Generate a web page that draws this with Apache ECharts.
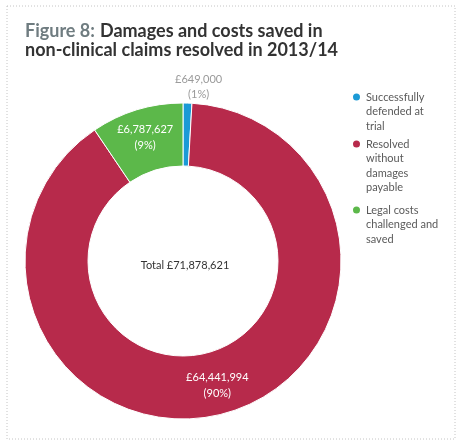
<!DOCTYPE html>
<html>
<head>
<meta charset="utf-8">
<script src="https://cdn.jsdelivr.net/npm/echarts@6/dist/echarts.min.js"></script>
<style>
	html, body { margin: 0; padding: 0; background: #fff; }
	#chart { width: 457px; height: 443px; }
</style>
</head>
<body>
<div id="chart"></div>
<script>
var categories = ['Successfully\ndefended at\ntrial', 'Resolved\nwithout\ndamages\npayable', 'Legal costs\nchallenged and\nsaved'];
var amounts = [649000, 64441994, 6787627];
var amountLabels = ['£649,000', '£64,441,994', '£6,787,627'];
var percentLabels = ['(1%)', '(90%)', '(9%)'];
var totalLabel = 'Total £71,878,621';
var colors = ['#1b9ad6', '#b72a4b', '#5cb84a'];

// legend icon centres sit on the first text line
var legendIconY = [97, 144, 210];
var legendLineHeight = 14.5;

var chartDom = document.getElementById('chart');
var myChart = echarts.init(chartDom);
var option;

var pieData = [];
for (let i in categories) {
	var item = {
		name: categories[i],
		value: amounts[i],
		itemStyle: { color: colors[i] }
	};
	if (i == 0) {
		item.label = { position: 'outside', color: '#9a9a9a', lineHeight: 15 };
		item.labelLine = { show: false, length: 4, length2: 0 };
	}
	pieData.push(item);
}

var legends = [];
for (let i in categories) {
	var nLines = categories[i].split('\n').length;
	var blank = new Array(nLines).join('\n');
	legends.push({
		data: [categories[i]],
		orient: 'vertical',
		left: 351,
		top: legendIconY[i] - (2 * nLines - 1) * legendLineHeight / 2,
		padding: 0,
		icon: 'circle',
		itemWidth: 9,
		itemHeight: 9,
		selectedMode: false,
		formatter: (function (b) {
			return function (name) { return b + name; };
		})(blank),
		textStyle: {
			fontFamily: 'Lato',
			fontSize: 11,
			lineHeight: legendLineHeight,
			color: '#5a5a5a'
		}
	});
}

option = {
	animation: false,
	backgroundColor: '#fff',
	title: [
		{
			text: '{g|Figure 8:} {b|Damages and costs saved in}\n{b|non-clinical claims resolved in 2013/14}',
			left: 25,
			top: 22,
			padding: 0,
			textStyle: {
				rich: {
					g: { fontFamily: 'Lato', fontWeight: 'bold', fontSize: 18, color: '#6f7c80', lineHeight: 19 },
					b: { fontFamily: 'Lato', fontWeight: 'bold', fontSize: 18, color: '#333', lineHeight: 19 }
				}
			}
		},
		{
			text: totalLabel,
			left: 185,
			top: 265,
			textAlign: 'center',
			textVerticalAlign: 'middle',
			padding: 0,
			textStyle: { fontFamily: 'Lato', fontWeight: 'normal', fontSize: 11, color: '#333' }
		}
	],
	legend: legends,
	graphic: [
		{
			type: 'rect',
			shape: { x: 7, y: 6, width: 448, height: 433 },
			style: { fill: 'none', stroke: '#c4c4c4', lineWidth: 1, lineDash: [1, 2] },
			silent: true
		}
	],
	series: [
		{
			name: 'Damages and costs',
			type: 'pie',
			center: [183, 261],
			radius: [95, 158],
			startAngle: 90,
			clockwise: true,
			avoidLabelOverlap: false,
			data: pieData,
			itemStyle: { borderColor: '#fff', borderWidth: 1 },
			label: {
				show: true,
				position: 'inside',
				fontFamily: 'Lato',
				fontSize: 11,
				lineHeight: 16,
				color: '#fff',
				formatter: function (p) {
					return amountLabels[p.dataIndex] + '\n' + percentLabels[p.dataIndex];
				}
			},
			labelLayout: function (params) {
				if (params.dataIndex !== 0) return {};
				return { align: 'center', dx: 6, dy: -12 };
			},
			labelLine: { show: false },
			emphasis: { disabled: true }
		}
	]
};

option && myChart.setOption(option);
</script>
</body>
</html>
